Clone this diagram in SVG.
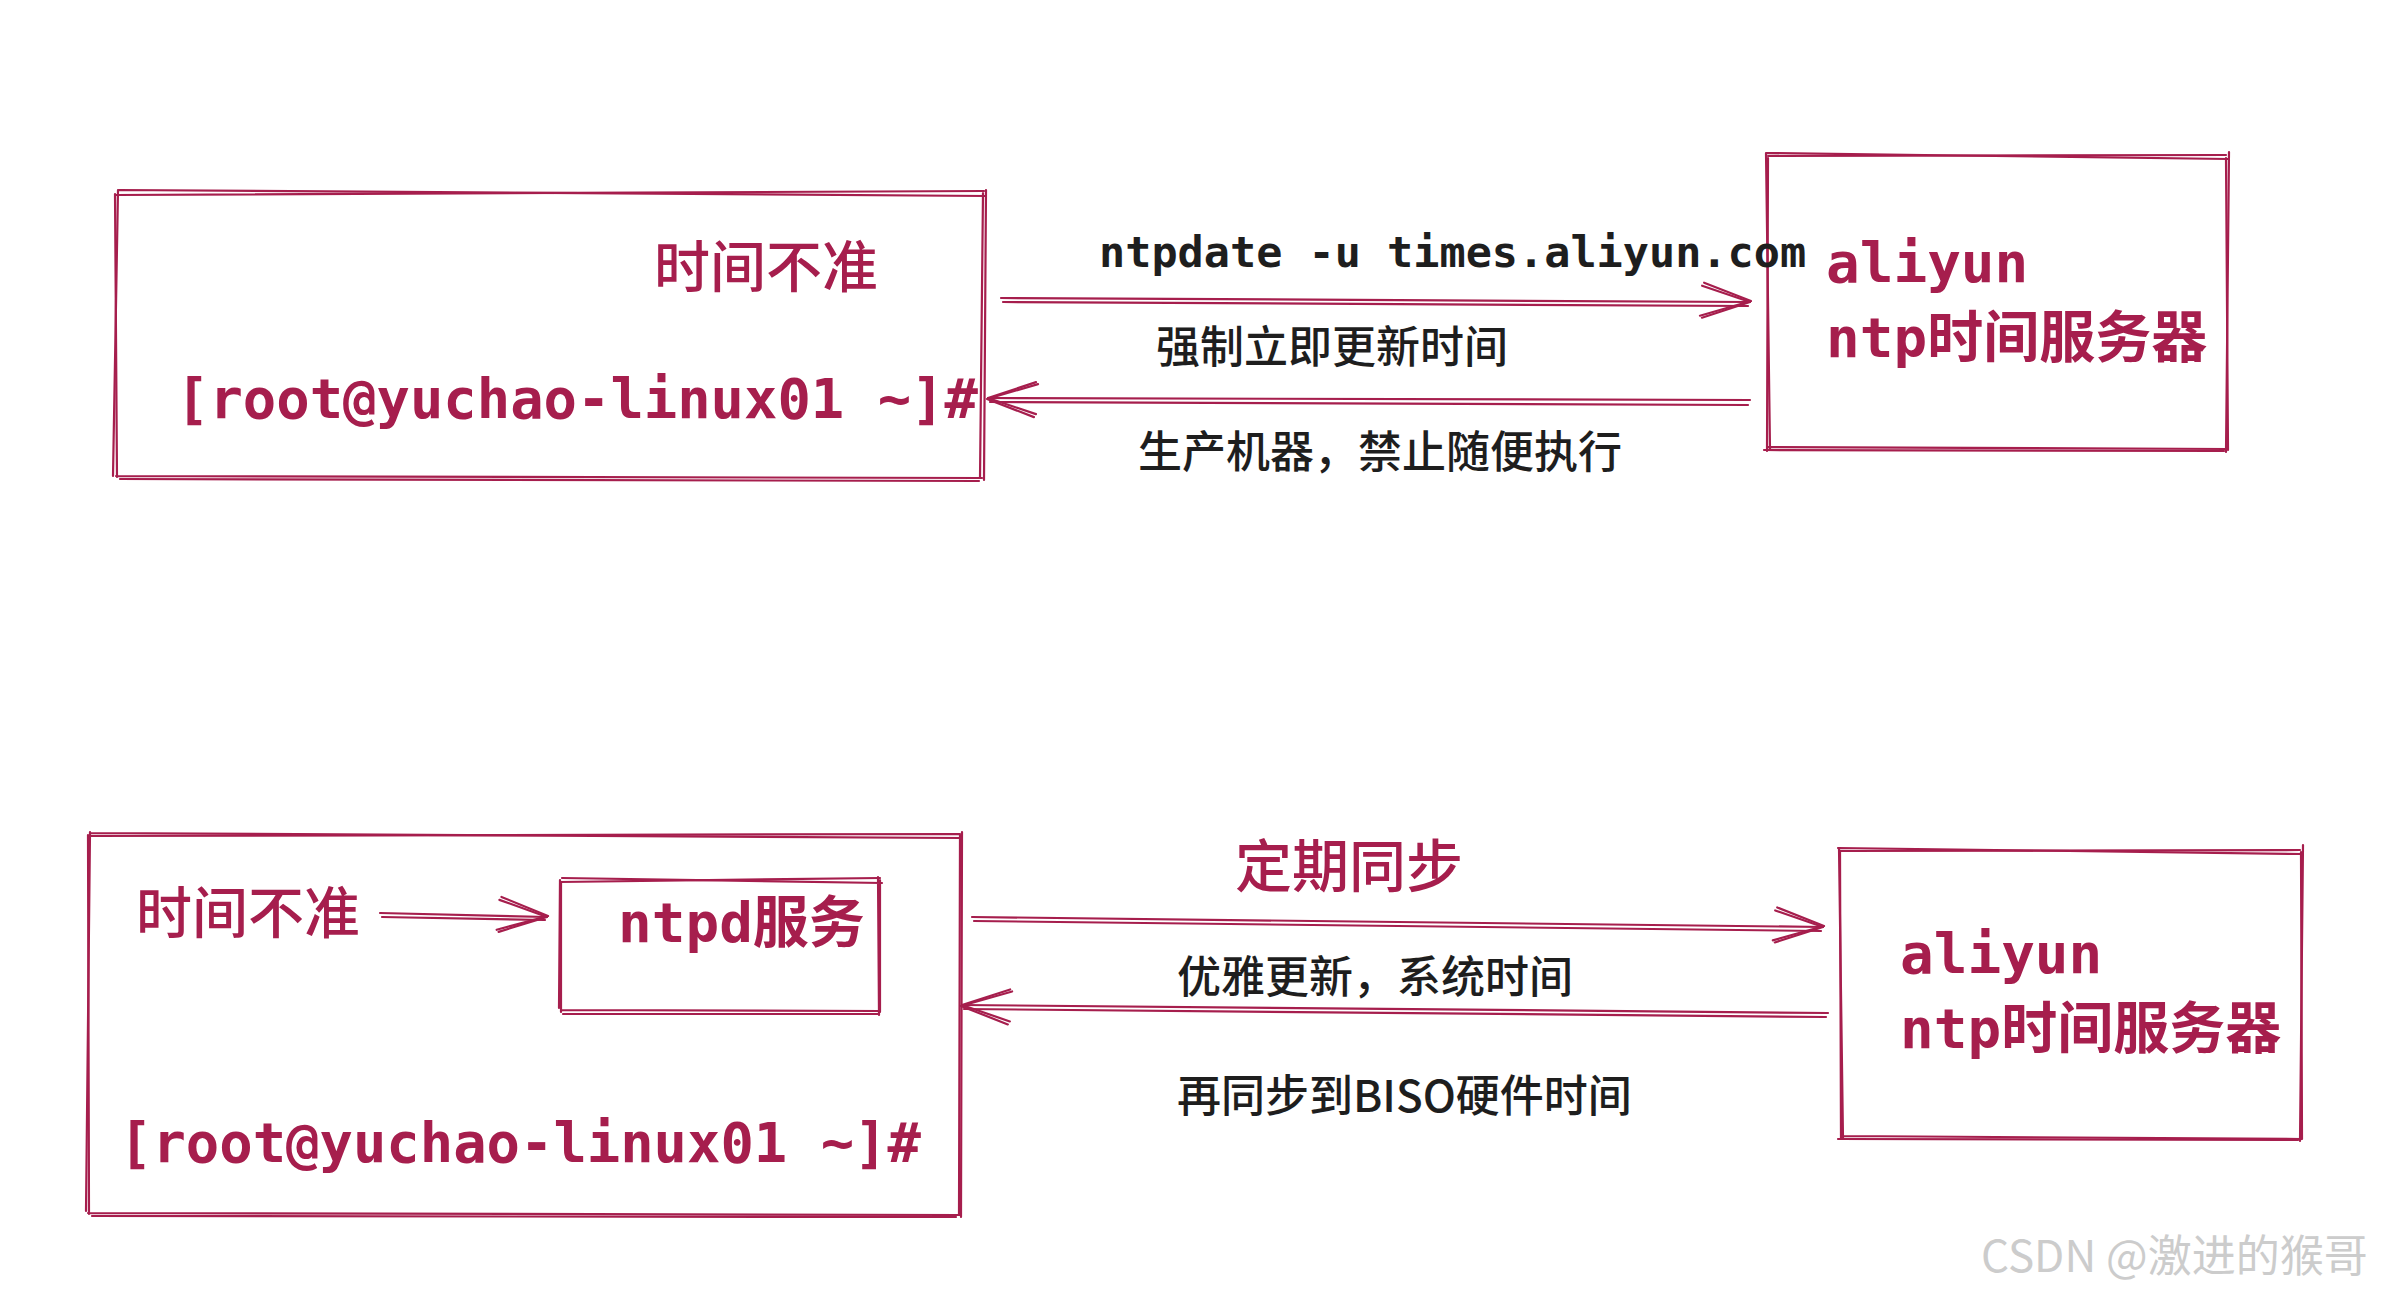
<svg xmlns="http://www.w3.org/2000/svg" width="2400" height="1300" viewBox="0 0 2400 1300">
<style>
.rough{fill:none;stroke:#a61e4d;stroke-width:2.2;stroke-linecap:round;stroke-linejoin:round}
.mono{font-family:"DejaVu Sans Mono","Noto Sans CJK SC",monospace;font-weight:bold}
.cjk{font-family:"Noto Sans CJK SC","Noto Sans",sans-serif}
.red{fill:#a61e4d}
.blk{fill:#1e1e1e}
.lbl{font-size:44px;font-weight:500}
.rc{font-weight:500}
</style>
<defs>
<marker id="chev" viewBox="-52 -22 58 44" refX="0" refY="0" markerWidth="58" markerHeight="44" markerUnits="userSpaceOnUse" orient="auto" overflow="visible">
<path class="rough" d="M-48,-16 L0,0 L-48,16"/>
<path class="rough" d="M-46,-19 L1,-1 L-50,14"/>
</marker>
</defs>
<rect width="2400" height="1300" fill="#ffffff"/>

<g id="node-client-top">
<path class="rough" d="M116 195 L984 191 M983 193 L980 478 M982 478 L116 476 M117 477 L115 194"/>
<path class="rough" d="M119 190 L986 196 M986 190 L984 480 M979 481 L120 479 M113 476 L118 190"/>
<text class="cjk red rc" x="654" y="287" font-size="56">时间不准</text>
<text class="mono red" x="176" y="418" font-size="55.5">[root@yuchao-linux01 ~]#</text>
</g>

<g id="node-server-top">
<path class="rough" d="M1768 156 L2226 155 M2226 158 L2228 450 M2228 449 L1767 447 M1767 451 L1768 158"/>
<path class="rough" d="M1766 153 L2228 159 M2229 152 L2226 452 M2224 451 L1764 450 M1770 449 L1766 153"/>
<text class="mono red" x="1826" y="282" font-size="56">aliyun</text>
<text class="mono red" x="1826" y="357" font-size="56">ntp时间服务器</text>
</g>

<g id="node-client-bottom">
<path class="rough" d="M88 836 L960 834 M960 835 L959 1215 M960 1215 L88 1213 M89 1214 L88 835"/>
<path class="rough" d="M90 833 L962 838 M962 832 L961 1217 M956 1217 L92 1216 M86 1211 L90 832"/>
<text class="cjk red rc" x="136" y="933" font-size="56">时间不准</text>
<text class="mono red" x="119" y="1162" font-size="55.5">[root@yuchao-linux01 ~]#</text>
</g>

<g id="node-ntpd">
<path class="rough" d="M560 882 L880 878 M880 880 L880 1012 M880 1011 L562 1010 M561 1012 L561 882"/>
<path class="rough" d="M562 878 L882 883 M878 877 L879 1015 M878 1014 L563 1014 M559 1008 L560 880"/>
<text class="mono red" x="618" y="942" font-size="56">ntpd服务</text>
</g>

<g id="node-server-bottom">
<path class="rough" d="M1840 851 L2300 850 M2301 852 L2302 1139 M2301 1139 L1841 1136 M1841 1139 L1840 852"/>
<path class="rough" d="M1838 848 L2303 854 M2303 845 L2300 1141 M2298 1140 L1838 1139 M1843 1138 L1839 848"/>
<text class="mono red" x="1900" y="973" font-size="56">aliyun</text>
<text class="mono red" x="1900" y="1048" font-size="56">ntp时间服务器</text>
</g>

<g id="connectors">
<path class="rough" d="M1001 298 L1750 302" marker-end="url(#chev)"/>
<path class="rough" d="M1003 302 L1748 306"/>
<path class="rough" d="M1750 400 L988 398" marker-end="url(#chev)"/>
<path class="rough" d="M1748 405 L990 402"/>
<path class="rough" d="M380 913 L547 917" marker-end="url(#chev)"/>
<path class="rough" d="M382 917 L545 920"/>
<path class="rough" d="M972 917 L1823 927" marker-end="url(#chev)"/>
<path class="rough" d="M974 921 L1821 931"/>
<path class="rough" d="M1828 1013 L962 1005" marker-end="url(#chev)"/>
<path class="rough" d="M1826 1017 L964 1009"/>
</g>

<g id="labels">
<text class="mono blk" x="1099" y="267" font-size="43.5">ntpdate -u times.aliyun.com</text>
<text class="cjk blk lbl" x="1156" y="363">强制立即更新时间</text>
<text class="cjk blk lbl" x="1138" y="468">生产机器，禁止随便执行</text>
<text class="cjk red rc" x="1235" y="887" font-size="57">定期同步</text>
<text class="cjk blk lbl" x="1177" y="993">优雅更新，系统时间</text>
<text class="cjk blk lbl" x="1177" y="1112">再同步到BISO硬件时间</text>
</g>

<text x="1981" y="1272" font-size="44" fill="#cccccc" font-family="'Noto Sans CJK SC','Liberation Sans',sans-serif">CSDN @激进的猴哥</text>
</svg>
